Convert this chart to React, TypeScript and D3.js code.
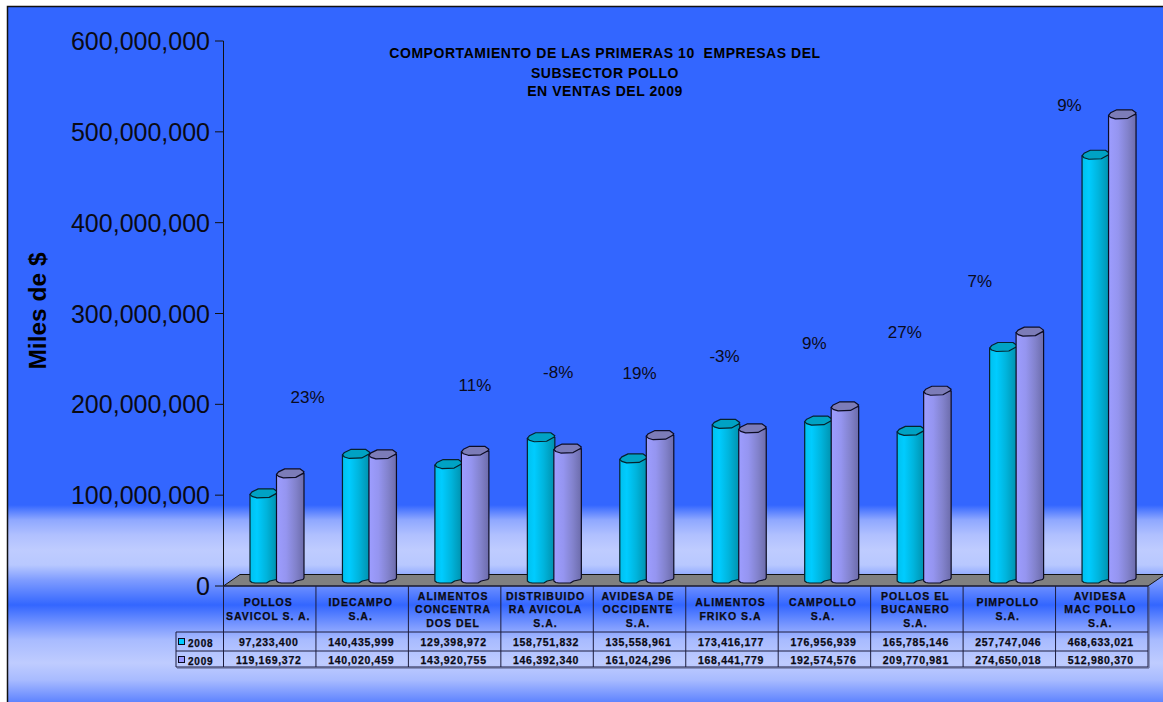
import React from "react";
import * as d3 from "d3";

const categoryLines: string[][] = [
  ["POLLOS", "SAVICOL S. A."],
  ["IDECAMPO", "S.A."],
  ["ALIMENTOS", "CONCENTRA", "DOS DEL"],
  ["DISTRIBUIDO", "RA AVICOLA", "S.A."],
  ["AVIDESA DE", "OCCIDENTE", "S.A."],
  ["ALIMENTOS", "FRIKO S.A"],
  ["CAMPOLLO", "S.A."],
  ["POLLOS EL", "BUCANERO", "S.A."],
  ["PIMPOLLO", "S.A."],
  ["AVIDESA", "MAC POLLO", "S.A."],
];
const values2008 = [97233400, 140435999, 129398972, 158751832, 135558961, 173416177, 176956939, 165785146, 257747046, 468633021];
const values2009 = [119169372, 140020459, 143920755, 146392340, 161024296, 168441779, 192574576, 209770981, 274650018, 512980370];
const pctLabels = ["23%", "11%", "-8%", "19%", "-3%", "9%", "27%", "7%", "9%"];
const pctCategory = [0.91, 2.72, 3.62, 4.5, 5.42, 6.39, 7.37, 8.18, 9.15];
const pctLevels = [208e6, 221e6, 236e6, 234e6, 253e6, 268e6, 280e6, 336e6, 530e6];
const yTicks = [0, 1e8, 2e8, 3e8, 4e8, 5e8, 6e8];
const titleLines = ["COMPORTAMIENTO DE LAS PRIMERAS 10  EMPRESAS DEL", "SUBSECTOR POLLO", "EN VENTAS DEL 2009"];

const W = 1163, H = 702;
const FONT = "'Liberation Sans', Arial, sans-serif";
const axisX = 223.5, tableRight = 1148;
const y = d3.scaleLinear().domain([0, 6e8]).range([586, 41]);
const yBar = d3.scaleLinear().domain([0, 6e8]).range([583, 36]);
const band = d3.scaleLinear().domain([0, 10]).range([axisX, tableRight]);
const fmt = d3.format(",");
const line = d3.line<[number, number]>();
const barW = 27.5;
const barOffset = 26.5;
const bgStops: [number, string][] = [
  [7, "#3366ff"], [505, "#3366ff"], [520, "#8fa8ff"], [535, "#b0c0ff"], [550, "#bfccff"], [565, "#b8c8ff"],
  [580, "#7f9cff"], [605, "#3366ff"], [627, "#7f9cff"], [640, "#a8bbff"], [663, "#bfccff"], [680, "#a8bbff"], [702, "#5f84ff"],
];

function Cylinder({ x, top, base, side, cap, stroke }: { x: number; top: number; base: number; side: string; cap: string; stroke: string }) {
  const x1 = x + barW;
  const body: [number, number][] = [
    [x, top], [x, base - 2], [x + 2, base - 0.5], [x + 5, base], [x + barW * 0.6, base],
    [x + barW * 0.72, base - 2], [x1 - 1, base - 3.5], [x1, base - 5], [x1, top - 1],
  ];
  const capPts: [number, number][] = [
    [x, top], [x + 2, top - 2.5], [x + barW * 0.3, top - 5.5], [x + barW * 0.85, top - 5.5],
    [x1, top - 2.5], [x1 - 1, top - 1], [x + barW * 0.7, top + 3], [x + barW * 0.25, top + 3.5], [x + 2, top + 2],
  ];
  return (
    <g>
      <path d={line(body)! + "Z"} fill={`url(#${side})`} stroke={stroke} strokeWidth={1.2} strokeLinejoin="round" />
      <path d={line(capPts)! + "Z"} fill={cap} stroke={stroke} strokeWidth={1.2} strokeLinejoin="round" />
    </g>
  );
}

export default function App() {
  const tickLabelX = 210;
  const floor: [number, number][] = [[axisX, 586], [240, 574.5], [W + 2, 574.5], [W + 2, 574.5], [tableRight, 586]];
  const headTop = 586, headBot = 632, row1 = 651, row2 = 667, legendX = 176;
  return (
    <svg width={W} height={H} viewBox={`0 0 ${W} ${H}`} style={{ position: "absolute", left: 0, top: 0, display: "block" }} fontFamily={FONT}>
      <defs>
        <linearGradient id="bg" gradientUnits="userSpaceOnUse" x1="0" y1="7" x2="0" y2="702">
          {bgStops.map(([o, c], i) => (
            <stop key={i} offset={(o - 7) / 695} stopColor={c} />
          ))}
        </linearGradient>
        <linearGradient id="cyanSide" x1="0" x2="1" y1="0" y2="0">
          <stop offset="0" stopColor="#00c0ee" />
          <stop offset="0.25" stopColor="#00ccff" />
          <stop offset="0.6" stopColor="#00b4dc" />
          <stop offset="1" stopColor="#0090ac" />
        </linearGradient>
        <linearGradient id="purpleSide" x1="0" x2="1" y1="0" y2="0">
          <stop offset="0" stopColor="#9d9dff" />
          <stop offset="0.35" stopColor="#9595f0" />
          <stop offset="0.7" stopColor="#8282cc" />
          <stop offset="1" stopColor="#6c6cab" />
        </linearGradient>
      </defs>
      <rect x={0} y={0} width={W} height={H} fill="#fff" />
      <rect x={8} y={7} width={W - 8} height={H - 7} fill="url(#bg)" />
      <path d={`M7.5 702V6.5H${W}`} fill="none" stroke="#111" strokeWidth={1.5} />

      {/* axis */}
      <line x1={axisX} x2={axisX} y1={y(6e8)} y2={y(0)} stroke="#111" />
      {yTicks.map((t) => (
        <g key={t}>
          <line x1={215} x2={axisX} y1={y(t)} y2={y(t)} stroke="#111" />
          <text x={tickLabelX} y={y(t) + 9} textAnchor="end" fontSize={25} fill="#0a0a14">{fmt(t)}</text>
        </g>
      ))}
      <text transform="translate(46,311) rotate(-90)" textAnchor="middle" fontSize={24.5} fontWeight={700} fill="#000">Miles de $</text>

      {/* title */}
      {titleLines.map((t, i) => (
        <text key={i} x={605} y={[58, 78, 96][i]} textAnchor="middle" fontSize={14} fontWeight={700} letterSpacing={0.55} fill="#000" xmlSpace="preserve">{t}</text>
      ))}

      {/* floor */}
      <path d={line(floor)! + "Z"} fill="#808080" stroke="#111" strokeWidth={1} />

      {/* bars */}
      {values2008.map((_, i) => {
        const gx = band(i) + 26.5;
        return (
          <g key={i}>
            <Cylinder x={gx} top={yBar(values2008[i])} base={yBar(0)} side="cyanSide" cap="#00a2c4" stroke="#06222c" />
            <Cylinder x={gx + barOffset} top={yBar(values2009[i])} base={yBar(0)} side="purpleSide" cap="#7c7cb8" stroke="#0c0c24" />
          </g>
        );
      })}

      {/* percent labels */}
      {pctLabels.map((t, i) => (
        <text key={i} x={band(pctCategory[i])} y={y(pctLevels[i]) + 6} textAnchor="middle" fontSize={17} fill="#0a0a20">{t}</text>
      ))}

      {/* data table */}
      <g stroke="#1c1c3c" strokeWidth={1} fill="none">
        <path d={`M${axisX} ${headTop}H${tableRight}M${legendX} ${headBot}H${tableRight}M${legendX} ${row1}H${tableRight}M${legendX} ${row2}H${tableRight}M${legendX} ${headBot}V${row2}`} />
        {d3.range(11).map((i) => (
          <line key={i} x1={band(i)} x2={band(i)} y1={headTop} y2={row2} />
        ))}
        <path d={`M${legendX + 1} ${row2 + 1}H${tableRight + 1}V${headTop + 1}`} stroke="#555a80" />
      </g>
      <g stroke="#0a0a14" strokeWidth={0.25}>
        {categoryLines.map((ls, i) => {
          const ys = ls.length === 3 ? [596, 609.5, 623] : [602, 616];
          return ls.map((s, j) => (
            <text key={`${i}-${j}`} x={band(i + 0.5) - 1.5} y={ys[j] + 3.7} textAnchor="middle" fontSize={10.5} fontWeight={700} letterSpacing={1} fill="#0a0a14">{s}</text>
          ));
        })}
        {[values2008, values2009].map((vals, r) => (
          <g key={r}>
            <rect x={178.5} y={[638, 656][r] + 0.5} width={6} height={6} fill={["#00ccff", "#9999ff"][r]} stroke="#0a0a20" strokeWidth={1} />
            <text x={188} y={[647, 664.5][r]} fontSize={10} fontWeight={700} letterSpacing={0.8} fill="#0a0a14">{["2008", "2009"][r]}</text>
            {vals.map((v, i) => (
              <text key={i} x={band(i + 0.5) - 1} y={[646, 664][r]} textAnchor="middle" fontSize={10.5} fontWeight={700} letterSpacing={0.7} fill="#0a0a14">{fmt(v)}</text>
            ))}
          </g>
        ))}
      </g>
    </svg>
  );
}
